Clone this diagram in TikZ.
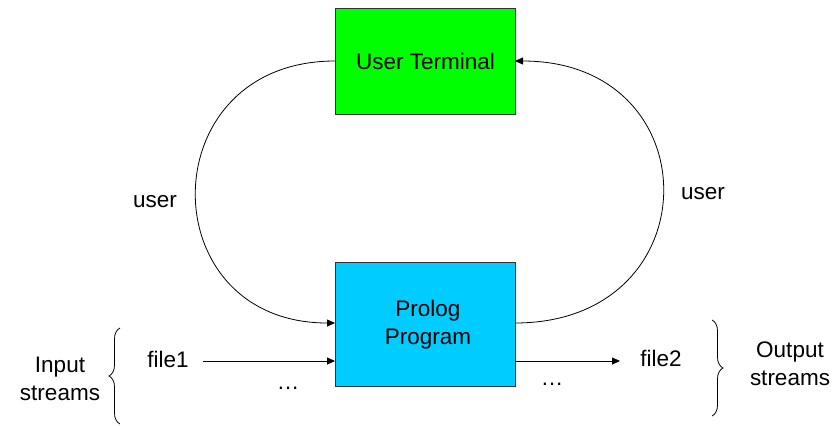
\documentclass[tikz,border=0pt]{standalone}
\usepackage{fontspec}
\setmainfont{Liberation Sans}
\usetikzlibrary{arrows.meta,decorations.pathreplacing}
\definecolor{termgreen}{RGB}{0,255,0}
\definecolor{progcyan}{RGB}{0,204,255}
\begin{document}
\begin{tikzpicture}[x=1pt,y=-1pt,
  box/.style={draw=black!80,line width=0.9pt,minimum width=180pt,align=center,inner sep=0pt},
  lbl/.style={font=\fontsize{22.5}{28}\selectfont,align=center,inner sep=0pt},
  conn/.style={line width=0.8pt,-{Triangle[length=8pt,width=7pt]}},
  brc/.style={line width=0.8pt,decorate,decoration={brace,amplitude=11pt}}]
\useasboundingbox (0,0) rectangle (836,426);
\node[box,fill=termgreen,minimum height=106pt,anchor=north west,lbl] (ut) at (335,8) {User Terminal};
\node[box,fill=progcyan,minimum height=124pt,anchor=north west] (pp) at (335,262) {};
\node[lbl] (pptext) at (428,325) {Prolog\\Program};
\coordinate (utL) at (335,61);
\coordinate (utR) at (515,61);
\coordinate (ppL) at (335,323);
\coordinate (ppR) at (515,323);
\coordinate (ppIn) at (335,361);
\coordinate (ppOut) at (515,361);
\coordinate (a1) at (203,361);
\coordinate (a2) at (620,361);
\draw[conn] (utL) .. controls (150,61) and (150,323) .. (ppL);
\draw[conn] (ppR) .. controls (712,323) and (712,61) .. (utR);
\node[lbl] (uleft) at (155,202) {user};
\node[lbl] (uright) at (703,194) {user};
\node[lbl] (f1) at (168,359) {file1};
\node[lbl] (f2) at (661,358) {file2};
\draw[conn] (a1) -- (ppIn);
\draw[conn] (ppOut) -- (a2);
\node[lbl] (d1) at (288,388) {\ldots};
\node[lbl] (d2) at (552,384) {\ldots};
\node[lbl] (inp) at (60,379) {Input\\streams};
\node[lbl] (outp) at (790,364) {Output\\streams};
\draw[brc] (120,424) -- (120,328);
\draw[brc] (712,320) -- (712,416);
\end{tikzpicture}
\end{document}
